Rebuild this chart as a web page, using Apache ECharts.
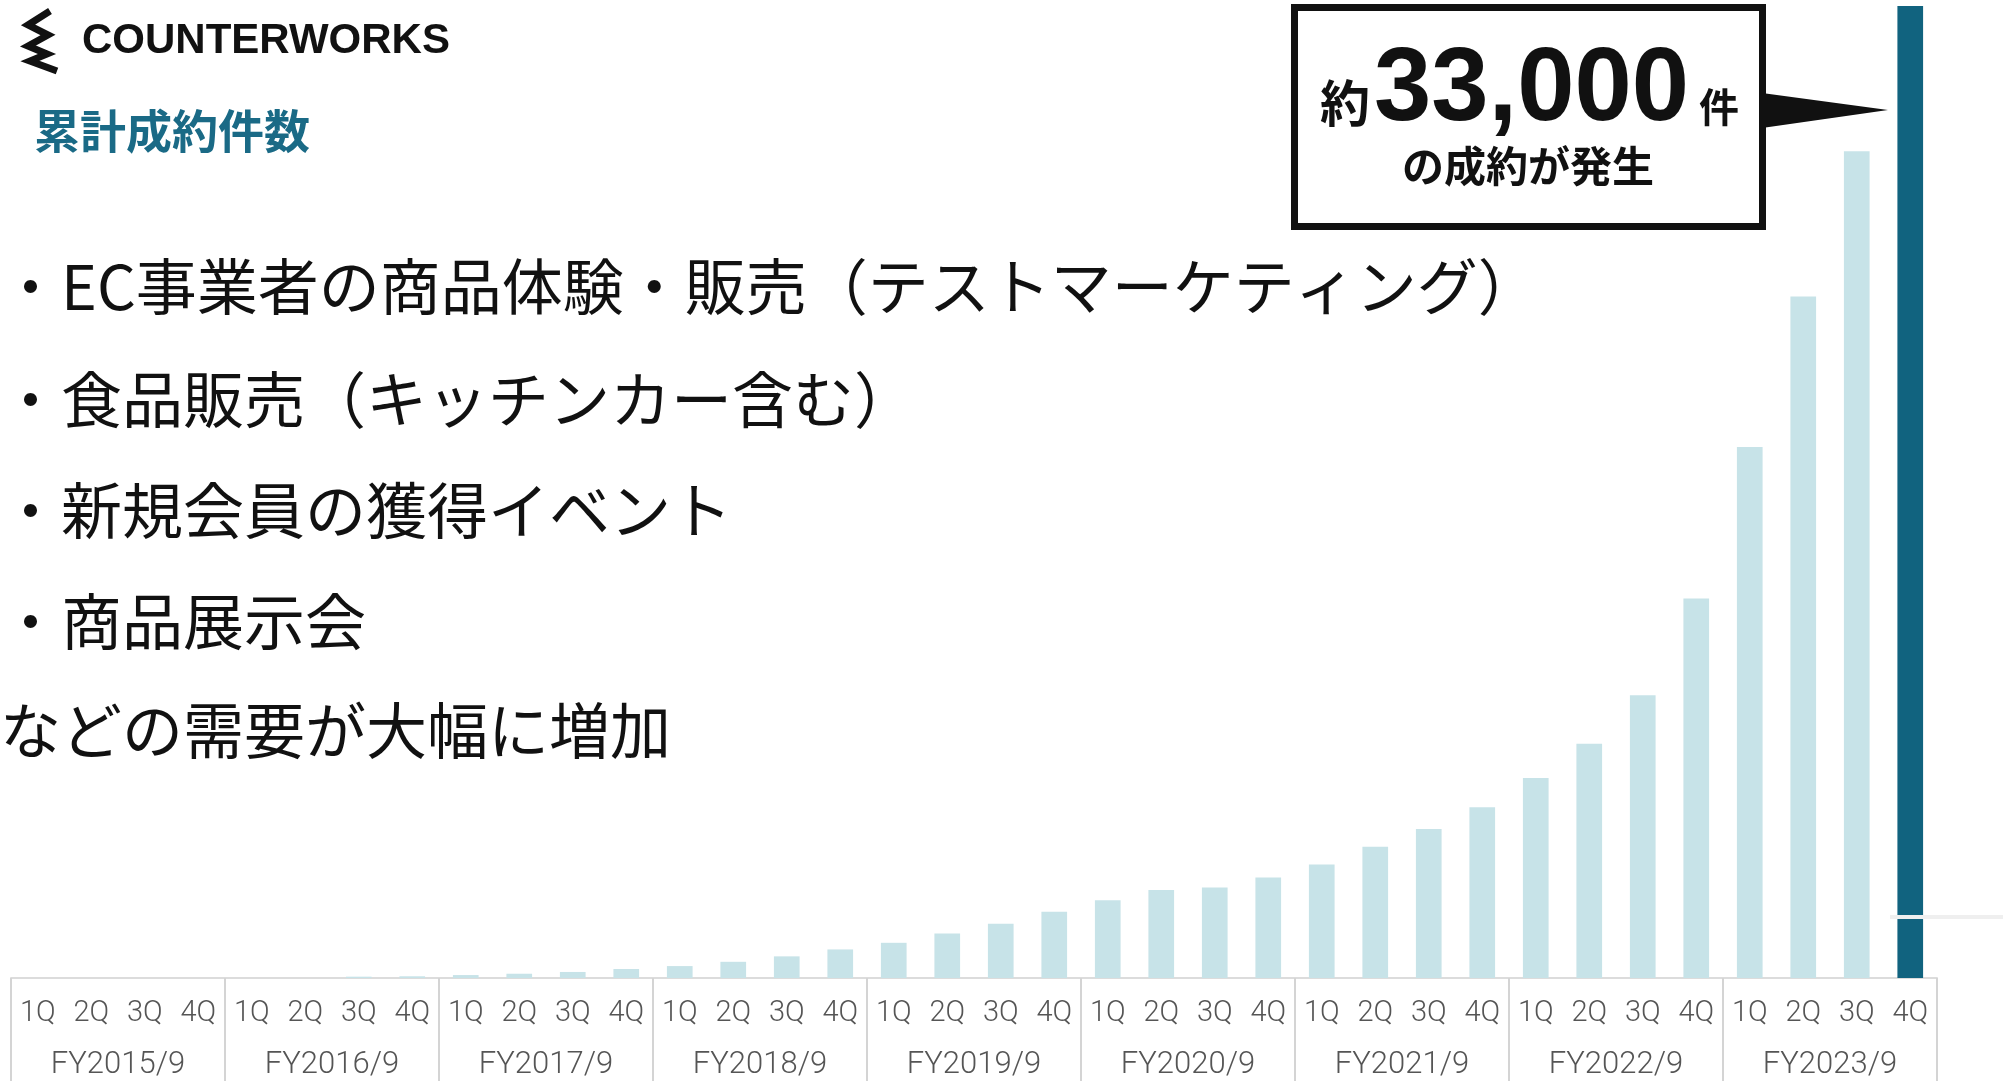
<!DOCTYPE html>
<html>
<head>
<meta charset="utf-8">
<script src="https://cdn.jsdelivr.net/npm/echarts@6/dist/echarts.min.js"></script>
<style>html,body{margin:0;padding:0;background:#fff;}#c{width:2003px;height:1081px;}</style>
</head>
<body>
<div id="c"></div>
<script>
var quarters = ['1Q','2Q','3Q','4Q','1Q','2Q','3Q','4Q','1Q','2Q','3Q','4Q','1Q','2Q','3Q','4Q','1Q','2Q','3Q','4Q','1Q','2Q','3Q','4Q','1Q','2Q','3Q','4Q','1Q','2Q','3Q','4Q','1Q','2Q','3Q','4Q'];
var fiscalYears = ['FY2015/9','FY2016/9','FY2017/9','FY2018/9','FY2019/9','FY2020/9','FY2021/9','FY2022/9','FY2023/9'];
var cumulativeDeals = [0,0,0,0, 0,0,45,58, 100,145,205,305, 405,550,735,970, 1195,1510,1840,2250, 2640,2985,3070,3415, 3850,4455,5060,5795, 6790,7955,9600,12885, 18030,23135,28065,33000];
var bulletLines = ['・EC事業者の商品体験・販売（テストマーケティング）','・食品販売（キッチンカー含む）','・新規会員の獲得イベント','・商品展示会','などの需要が大幅に増加'];
var titleText = '累計成約件数';
var brandText = 'COUNTERWORKS';
var calloutPrefix = '約';
var calloutNumber = '33,000';
var calloutUnit = '件';
var calloutSub = 'の成約が発生';

var LIGHT = '#c7e3e8', DARK = '#11637f';
var barData = cumulativeDeals.map(function (v, i) {
  return { value: v, itemStyle: { color: i === cumulativeDeals.length - 1 ? DARK : LIGHT } };
});

var JP = '"Noto Sans CJK JP", "Noto Sans", sans-serif';
function txt(text, x, y, size, weight, color, align, family) {
  return { type: 'text', z: 10, style: {
    text: text, x: x, y: y, fill: color,
    font: weight + ' ' + size + 'px ' + (family || JP),
    align: align || 'left', verticalAlign: 'middle',
    textAlign: align || 'left', textVerticalAlign: 'middle'
  } };
}
var lineYs = [287, 400, 511, 622, 731];
var graphics = [];
bulletLines.forEach(function (t, i) { graphics.push(txt(t, 0, lineYs[i], 61, 'normal', '#111')); });
graphics.push(txt(titleText, 34, 131, 46, 'bold', '#1a6a86'));
graphics.push(txt(brandText, 82, 41, 42, 'bold', '#111', 'left', '"Liberation Sans", Arial, sans-serif'));
graphics.push({ type: 'polyline', z: 10, shape: { points: [[50,11],[28,25],[48,35],[28,46],[47,54],[30,61],[57,71]] },
  style: { stroke: '#111', lineWidth: 7, fill: null, lineJoin: 'miter' } });
graphics.push({ type: 'rect', z: 10, shape: { x: 1294.5, y: 7.5, width: 468, height: 219 },
  style: { fill: '#fff', stroke: '#111', lineWidth: 7 } });
graphics.push({ type: 'polygon', z: 10, shape: { points: [[1762,93],[1888,110],[1762,128]] }, style: { fill: '#111' } });
graphics.push(txt(calloutPrefix, 1345, 103, 50, 'bold', '#111', 'center'));
graphics.push(txt(calloutNumber, 1374, 92, 103, 'bold', '#111', 'left', '"Liberation Sans", Arial, sans-serif'));
graphics.push(txt(calloutUnit, 1719, 107, 40, 'bold', '#111', 'center'));
graphics.push(txt(calloutSub, 1528, 166, 42, 'bold', '#111', 'center'));
graphics.push({ type: 'rect', z: 10, shape: { x: 1890, y: 915, width: 113, height: 4 }, style: { fill: '#efefef' } });

var chart = echarts.init(document.getElementById('c'));
chart.setOption({
  animation: false,
  backgroundColor: '#fff',
  grid: { left: 11, right: 66, top: 6, bottom: 100 },
  xAxis: [
    { type: 'category', data: quarters, position: 'bottom',
      axisLine: { show: true, lineStyle: { color: '#dcdcdc', width: 2 } },
      axisTick: { show: false },
      axisLabel: { interval: 0, margin: 21, fontSize: 29, color: '#555', fontFamily: 'Roboto, sans-serif', fontWeight: 300 } },
    { type: 'category', data: fiscalYears, position: 'bottom',
      axisLine: { show: false },
      axisTick: { show: true, interval: 0, length: 110, lineStyle: { color: '#d4d4d4', width: 2 } },
      axisLabel: { interval: 0, margin: 72, fontSize: 31, color: '#555', fontFamily: 'Roboto, sans-serif', fontWeight: 300 } }
  ],
  yAxis: { type: 'value', min: 0, max: 33000, show: false },
  series: [{ type: 'bar', xAxisIndex: 0, data: barData, barWidth: '48%' }],
  graphic: graphics
});
</script>
</body>
</html>
